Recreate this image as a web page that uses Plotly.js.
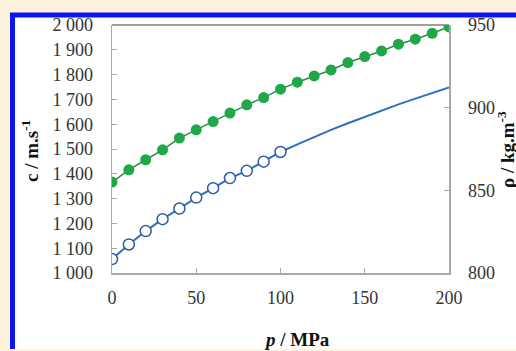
<!DOCTYPE html>
<html><head><meta charset="utf-8">
<script src="https://cdn.plot.ly/plotly-3.0.1.min.js"></script>
<style>html,body{margin:0;padding:0;background:#FDF2DC;overflow:hidden;}</style>
</head><body><div id="chart" style="width:516px;height:351px;"></div>
<script>
// Density (right axis), filled green circles
const pressureDensity = [0,10,20,30,40,50,60,70,80,90,100,110,120,130,140,150,160,170,180,190,200];
const density = [855.0,862.4,868.5,874.5,881.6,886.6,891.6,896.7,901.7,906.1,911.2,915.4,919.2,922.8,927.3,930.9,934.3,938.4,941.4,945.0,948.8];
// Speed of sound data (left axis), open blue circles
const pressureSound = [0,10,20,30,40,50,60,70,80,90,100];
const soundSpeed = [1056,1115,1169,1217,1260,1304,1342,1383,1412,1449,1488];
// Speed of sound curve (left axis), blue line
const pressureCurve = [0,10,20,30,40,50,60,70,80,90,100,110,120,130,140,150,160,170,180,190,200];
const soundCurve = [1056,1115,1169,1217,1260,1304,1342,1383,1412,1449,1488,1519,1549,1577,1604,1630,1655,1680,1703,1726,1748];
// Tick labels
const xTicks = [0,50,100,150,200];
const xTickText = ['0','50','100','150','200'];
const yTicks = [1000,1100,1200,1300,1400,1500,1600,1700,1800,1900,2000];
const yTickText = ['1 000','1 100','1 200','1 300','1 400','1 500','1 600','1 700','1 800','1 900','2 000'];
const y2Ticks = [800,850,900,950];
const y2TickText = ['800','850','900','950'];

const L=112, R=449, T=25, B=273, W=516, H=351;
const px = v => (v - L) / (R - L);
const py = v => (B - v) / (B - T);

const traces = [
  {x: pressureCurve, y: soundCurve, mode: 'lines', yaxis: 'y',
   line: {color: '#2E6FC4', width: 2}, hoverinfo: 'skip'},
  {x: pressureSound, y: soundSpeed, mode: 'markers', yaxis: 'y',
   marker: {symbol: 'circle', size: 11, color: '#FFFFFF', line: {color: '#2F5C9C', width: 1.5}}},
  {x: pressureDensity, y: density, mode: 'lines+markers', yaxis: 'y2',
   line: {color: '#2E8A45', width: 1.5},
   marker: {symbol: 'circle', size: 11, color: '#1EA84A', line: {width: 0}}}
];

const tickFont = {family: 'Liberation Serif', size: 18, color: '#333333'};
const titleFont = {family: 'Liberation Serif', size: 19, color: '#111111'};

const layout = {
  width: W, height: H,
  margin: {l: L, r: W - R, t: T, b: H - B, pad: 0},
  paper_bgcolor: '#FDF2DC',
  plot_bgcolor: 'rgba(0,0,0,0)',
  showlegend: false,
  xaxis: {range: [0, 200], tickvals: xTicks, ticktext: xTickText,
    showline: true, linecolor: '#A8A8A8', linewidth: 1.5, ticks: 'inside', ticklen: 5,
    tickcolor: '#A8A8A8', tickwidth: 1, showgrid: false, zeroline: false,
    tickfont: tickFont, ticklabelstandoff: 8},
  yaxis: {range: [1000, 2000], tickvals: yTicks, ticktext: yTickText,
    showline: true, linecolor: '#A8A8A8', linewidth: 1.5, ticks: 'inside', ticklen: 5,
    tickcolor: '#A8A8A8', tickwidth: 1, showgrid: false, zeroline: false,
    tickfont: tickFont, ticklabelstandoff: 14},
  yaxis2: {range: [800, 950], tickvals: y2Ticks, ticktext: y2TickText, overlaying: 'y', side: 'right',
    showline: true, linecolor: '#A8A8A8', linewidth: 1.5, ticks: 'inside', ticklen: 5,
    tickcolor: '#A8A8A8', tickwidth: 1, showgrid: false, zeroline: false,
    tickfont: tickFont, ticklabelstandoff: 14},
  shapes: [
    {type: 'rect', xref: 'paper', yref: 'paper', layer: 'below',
     x0: px(10), x1: px(W + 5), y0: py(349), y1: py(13),
     fillcolor: '#FFFFFF', line: {width: 0}},
    {type: 'line', xref: 'paper', yref: 'paper', layer: 'below',
     x0: px(10), x1: px(W + 5), y0: py(15), y1: py(15),
     line: {color: '#0A14F5', width: 5}},
    {type: 'line', xref: 'paper', yref: 'paper', layer: 'below',
     x0: px(12.5), x1: px(12.5), y0: py(349), y1: py(13),
     line: {color: '#0A14F5', width: 5}},
    {type: 'line', xref: 'paper', yref: 'paper', layer: 'below',
     x0: 0, x1: 1, y0: 1, y1: 1, line: {color: '#7F7F7F', width: 1.5}}
  ],
  annotations: [
    {text: '<b>c / m.s<sup>-1</sup></b>', xref: 'paper', yref: 'paper', x: px(30), y: py(151),
     textangle: -90, showarrow: false, font: titleFont, xanchor: 'center', yanchor: 'middle'},
    {text: '<b>ρ / kg.m<sup>-3</sup></b>', xref: 'paper', yref: 'paper', x: px(506), y: py(150),
     textangle: -90, showarrow: false, font: titleFont, xanchor: 'center', yanchor: 'middle'},
    {text: '<b><i>p</i> / MPa</b>', xref: 'paper', yref: 'paper', x: px(297), y: py(340),
     showarrow: false, font: titleFont, xanchor: 'center', yanchor: 'middle'}
  ]
};

Plotly.newPlot('chart', traces, layout, {displayModeBar: false, staticPlot: true});
</script></body></html>
